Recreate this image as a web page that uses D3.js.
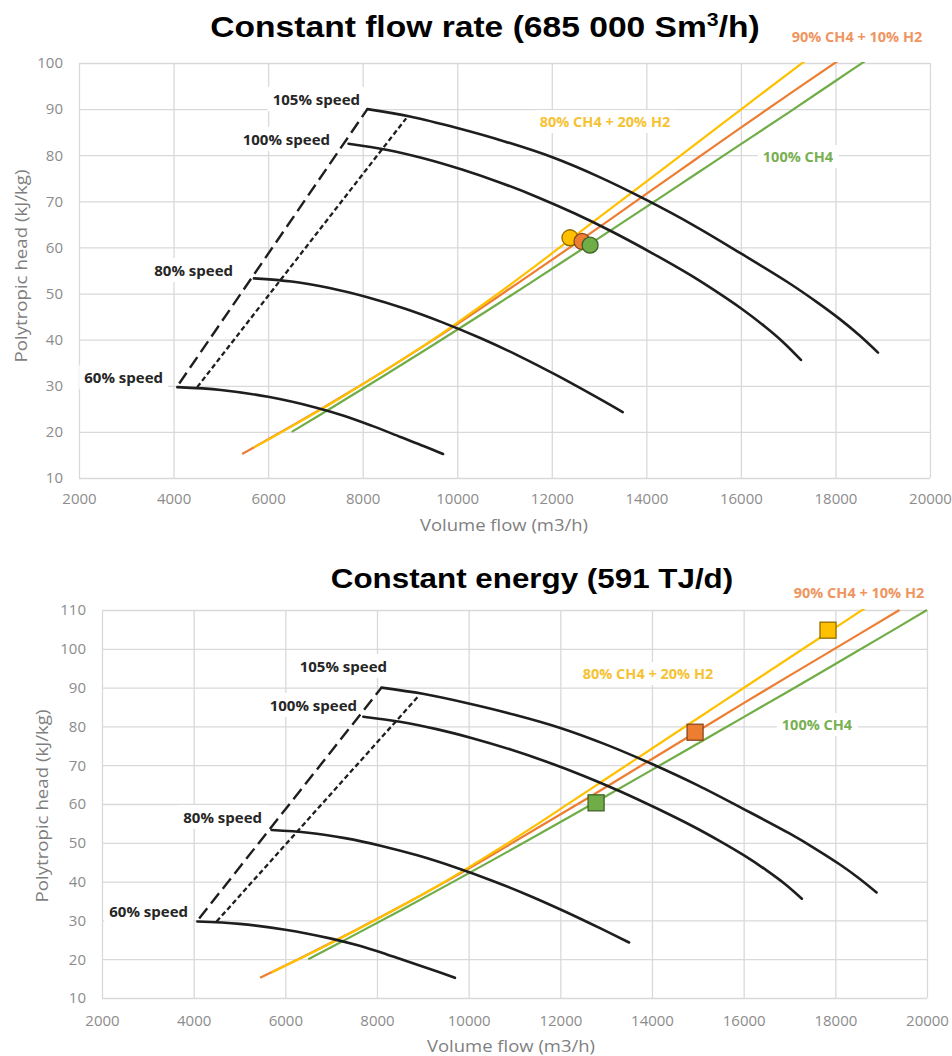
<!DOCTYPE html>
<html>
<head>
<meta charset="utf-8">
<script src="https://cdn.jsdelivr.net/npm/d3@7/dist/d3.min.js"></script>
<style>
  html, body { margin: 0; padding: 0; background: #ffffff; }
  svg { display: block; }
</style>
</head>
<body>
<script>
// ---------------- DATA ----------------
const xTicks = [2000, 4000, 6000, 8000, 10000, 12000, 14000, 16000, 18000, 20000];
const yTicksTop = [10, 20, 30, 40, 50, 60, 70, 80, 90, 100];
const yTicksBottom = [10, 20, 30, 40, 50, 60, 70, 80, 90, 100, 110];

// Compressor speed lines [volume flow m3/h, polytropic head kJ/kg]
const speed105 = [[8100, 90], [9000, 88.4], [10000, 85.9], [11000, 83.0], [12000, 79.6], [13000, 75.3],
  [14000, 70.3], [15000, 64.8], [16000, 58.7], [17000, 52.4], [17600, 48.2], [18100, 44.4], [18500, 41.0], [18900, 37.2]];
const speed100 = [[7700, 82.5], [8500, 81.2], [9300, 79.3], [10100, 76.9], [10900, 74.1], [11700, 70.9],
  [12500, 67.3], [13300, 63.3], [14100, 58.9], [14900, 54.2], [15500, 50.3], [16000, 46.8], [16500, 42.9],
  [16900, 39.4], [17270, 35.6]];
const speed80 = [[5700, 53.3], [6500, 52.6], [7300, 51.2], [8100, 49.2], [8900, 46.7], [9700, 43.7],
  [10500, 40.3], [11300, 36.5], [12100, 32.3], [12900, 27.8], [13500, 24.3]];
const speed60 = [[4080, 29.7], [5000, 29.1], [6000, 27.6], [7000, 25.3], [7600, 23.5], [8200, 21.3],
  [8800, 18.9], [9300, 16.9], [9700, 15.2]];
const surgeDashed = [[4120, 30.5], [8100, 90]];
const surgeDotted = [[4500, 29.7], [8920, 88]];

// Gas system lines
const gas80 = [[5700, 16.6], [6500, 21.2], [7500, 27.2], [8500, 33.5], [9500, 40.1], [10500, 47.3], [11500, 54.8],
  [12385, 61.7], [13000, 66.5], [14000, 74.3], [15000, 82.1], [16000, 89.9], [17000, 97.7], [17840, 104.2], [18650, 110.5]];
const gas90 = [[5450, 15.2], [6500, 21.3], [7500, 27.3], [8500, 33.5], [9500, 40.0], [10500, 46.8], [11500, 53.8],
  [12640, 61.8], [14000, 71.6], [15000, 78.8], [16000, 86.0], [17000, 93.1], [18000, 100.1], [19400, 110]];
const gas100 = [[6500, 20], [7500, 26.2], [8500, 32.5], [9500, 38.9], [10500, 45.4], [11500, 52.0], [12800, 60.7],
  [14000, 68.8], [15000, 75.6], [16000, 82.4], [17000, 89.2], [18000, 96.1], [19000, 103.0], [20000, 110]];

// Operating points
const gasNames = ["80% CH4 + 20% H2", "90% CH4 + 10% H2", "100% CH4"];
const flowPointsX = [12385, 12640, 12810];   // constant flow rate (circles)
const flowPointsY = [62.1, 61.3, 60.5];
const energyPointsX = [17840, 14940, 12780]; // constant energy (squares)
const energyPointsY = [104.8, 78.5, 60.3];

const speedNames = ["105% speed", "100% speed", "80% speed", "60% speed"];

// ---------------- STYLE / LAYOUT ----------------
const COL = { y: "#FFC000", o: "#ED7D31", g: "#70AD47" };
const LABCOL = { y: "#F6C233", o: "#EF9560", g: "#78AF52" };
const W = 952, H = 1056;

const svg = d3.select("body").append("svg").attr("width", W).attr("height", H);

const panels = [
  {
    id: "top", left: 79, right: 930, top: 63, bottom: 478, yDomain: [10, 100], yTicks: yTicksTop,
    titleParts: ["Constant flow rate (685 000 Sm", "3", "/h)"], titleX: 485, titleY: 37, titleSize: 30,
    xLabPad: 15, yLabPad: 16, xTitleY: 531, xTitleX: 504, yTitleX: 21, yTitleY: 266,
    speedLab: [[360, 105], [330, 145], [233, 276], [163, 383]],
    gasLab: [[605, 127], [857, 42], [798, 162]],
    marker: "circle", px: flowPointsX, py: flowPointsY
  },
  {
    id: "bot", left: 102, right: 927, top: 610, bottom: 998, yDomain: [10, 110], yTicks: yTicksBottom,
    titleParts: ["Constant energy (591 TJ/d)"], titleX: 532, titleY: 588, titleSize: 28,
    xLabPad: 17, yLabPad: 16, xTitleY: 1052, xTitleX: 511, yTitleX: 42, yTitleY: 806,
    speedLab: [[387, 672], [357, 711], [262, 823], [188, 917]],
    gasLab: [[648, 679], [859, 598], [817, 730]],
    marker: "square", px: energyPointsX, py: energyPointsY
  }
];

function drawPanel(p) {
  const g = svg.append("g");
  const x = d3.scaleLinear().domain([2000, 20000]).range([p.left, p.right]);
  const y = d3.scaleLinear().domain(p.yDomain).range([p.bottom, p.top]);

  // gridlines
  const gx = g.append("g").attr("transform", `translate(0,${p.bottom})`)
    .call(d3.axisBottom(x).tickValues(xTicks).tickSize(-(p.bottom - p.top)).tickFormat(""));
  gx.select(".domain").remove();
  gx.selectAll("line").attr("stroke", "#d9d9d9").attr("stroke-width", 1.3);
  const gy = g.append("g").attr("transform", `translate(${p.left},0)`)
    .call(d3.axisLeft(y).tickValues(p.yTicks).tickSize(-(p.right - p.left)).tickFormat(""));
  gy.select(".domain").remove();
  gy.selectAll("line").attr("stroke", "#d9d9d9").attr("stroke-width", 1.3);

  // tick labels
  const ax = g.append("g").attr("transform", `translate(0,${p.bottom})`)
    .call(d3.axisBottom(x).tickValues(xTicks).tickSize(0).tickPadding(p.xLabPad).tickFormat(d3.format("d")));
  ax.select(".domain").remove();
  ax.selectAll("text").attr("fill", "#8c8c8c").style("font-family", "'Open Sans', sans-serif").style("font-size", "15px");
  const ay = g.append("g").attr("transform", `translate(${p.left},0)`)
    .call(d3.axisLeft(y).tickValues(p.yTicks).tickSize(0).tickPadding(p.yLabPad));
  ay.select(".domain").remove();
  ay.selectAll("text").attr("fill", "#8c8c8c").style("font-family", "'Open Sans', sans-serif").style("font-size", "15px");

  // axis titles
  g.append("text").attr("x", p.xTitleX).attr("y", p.xTitleY).attr("text-anchor", "middle")
    .attr("fill", "#7f7f7f").style("font-family", "'Open Sans', sans-serif").style("font-size", "17px")
    .attr("textLength", 168).attr("lengthAdjust", "spacingAndGlyphs")
    .text("Volume flow (m3/h)");
  g.append("text").attr("transform", `translate(${p.yTitleX},${p.yTitleY}) rotate(-90)`)
    .attr("text-anchor", "middle").attr("dy", "0.35em")
    .attr("fill", "#7f7f7f").style("font-family", "'Open Sans', sans-serif").style("font-size", "17px")
    .attr("textLength", 193).attr("lengthAdjust", "spacingAndGlyphs")
    .text("Polytropic head (kJ/kg)");

  // title
  const tg = g.append("g").attr("transform", `translate(${p.titleX},${p.titleY}) scale(1.12,1)`);
  const tt = tg.append("text").attr("text-anchor", "middle").attr("fill", "#000")
    .style("font-family", "'Liberation Sans', Arial, sans-serif").style("font-weight", "bold")
    .style("font-size", p.titleSize + "px");
  tt.append("tspan").text(p.titleParts[0]);
  if (p.titleParts.length > 1) {
    tt.append("tspan").attr("dy", -11).style("font-size", "19px").text(p.titleParts[1]);
    tt.append("tspan").attr("dy", 11).text(p.titleParts[2]);
  }

  // labels (with white boxes)
  function label(txt, xx, yy, color, size, anchor) {
    const lg = g.append("g");
    const t = lg.append("text").attr("x", xx).attr("y", yy).attr("text-anchor", anchor)
      .attr("fill", color).style("font-family", "'Open Sans', sans-serif").style("font-weight", "bold")
      .style("font-size", size + "px").text(txt);
    const b = t.node().getBBox();
    lg.insert("rect", "text").attr("x", b.x - 5).attr("y", b.y - 2).attr("width", b.width + 10)
      .attr("height", b.height + 4).attr("fill", "#fff");
  }
  speedNames.forEach((s, i) => label(s, p.speedLab[i][0], p.speedLab[i][1], "#262626", 15, "end"));
  const gasCols = [LABCOL.y, LABCOL.o, LABCOL.g];
  gasNames.forEach((s, i) => label(s, p.gasLab[i][0], p.gasLab[i][1], gasCols[i], 14.5, "middle"));

  // clip
  const clipId = "clip-" + p.id;
  svg.append("defs").append("clipPath").attr("id", clipId).append("rect")
    .attr("x", p.left).attr("y", p.top - 1).attr("width", p.right - p.left + 1).attr("height", p.bottom - p.top + 1);
  const plot = g.append("g").attr("clip-path", `url(#${clipId})`);

  const smooth = d3.line().x(d => x(d[0])).y(d => y(d[1])).curve(d3.curveCatmullRom.alpha(0.5));
  const straight = d3.line().x(d => x(d[0])).y(d => y(d[1]));

  // gas lines
  [[gas100, COL.g], [gas90, COL.o], [gas80, COL.y]].forEach(([d, c]) => {
    plot.append("path").attr("d", smooth(d)).attr("fill", "none").attr("stroke", c).attr("stroke-width", 2.2);
  });

  // speed lines
  [speed105, speed100, speed80, speed60].forEach(d => {
    plot.append("path").attr("d", smooth(d)).attr("fill", "none").attr("stroke", "#1e1e1e")
      .attr("stroke-width", 2.6).attr("stroke-linecap", "round");
  });
  plot.append("path").attr("d", straight(surgeDashed)).attr("fill", "none").attr("stroke", "#1e1e1e")
    .attr("stroke-width", 2.4).attr("stroke-dasharray", "13,6");
  plot.append("path").attr("d", straight(surgeDotted)).attr("fill", "none").attr("stroke", "#1e1e1e")
    .attr("stroke-width", 2.3).attr("stroke-dasharray", "5,3");

  // markers
  const mcols = [COL.y, COL.o, COL.g];
  const pts = p.px.map((v, i) => ({ x: v, y: p.py[i], c: mcols[i] }));
  if (p.marker === "circle") {
    g.selectAll("circle.pt").data(pts).join("circle").attr("class", "pt")
      .attr("cx", d => x(d.x)).attr("cy", d => y(d.y)).attr("r", 8)
      .attr("fill", d => d.c).attr("stroke", d => d3.color(d.c).darker(1.6)).attr("stroke-width", 1.3);
  } else {
    const s = 16;
    g.selectAll("rect.pt").data(pts).join("rect").attr("class", "pt")
      .attr("x", d => x(d.x) - s / 2).attr("y", d => y(d.y) - s / 2).attr("width", s).attr("height", s)
      .attr("fill", d => d.c).attr("stroke", d => d3.color(d.c).darker(1.6)).attr("stroke-width", 1.3);
  }
}

panels.forEach(drawPanel);
</script>
</body>
</html>
